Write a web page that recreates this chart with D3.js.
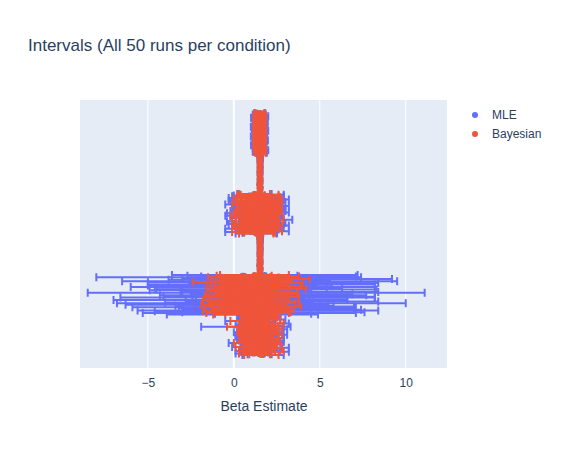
<!DOCTYPE html>
<html><head><meta charset="utf-8">
<script src="https://cdn.jsdelivr.net/npm/d3@7"></script>
<style>body{margin:0;background:#fff}</style></head>
<body><svg id="c" width="566" height="450"></svg>
<script>
const conditions = ["A","B","C","D","E","F"]; // top to bottom
const xTicks = [-5,0,5,10];
const mleEst = {
A:[1.5,1.6,1.4,1.5,1.7,1.5,1.3,1.6,1.5,1.4,1.6,1.5,1.7,1.4,1.5,1.6,1.5,1.3,1.5,1.6,1.4,1.5,1.7,1.5,1.6,1.4,1.5,1.5,1.6,1.3,1.5,1.4,1.6,1.5,1.7,1.5,1.4,1.6,1.5,1.5,1.3,1.6,1.5,1.4,1.6,1.5,1.7,1.5,1.4,1.6],
B:[1.55,1.5,1.6,1.52,1.48,1.55,1.5,1.58,1.53,1.5,1.56,1.49,1.52,1.55,1.5,1.54,1.51,1.57,1.5,1.53,1.55,1.5,1.52,1.56,1.49,1.53,1.55,1.5,1.52,1.54,1.51,1.55,1.5,1.53,1.56,1.5,1.52,1.55,1.48,1.53,1.5,1.54,1.56,1.5,1.52,1.55,1.51,1.53,1.5,1.54],
C:[1.2,1.6,0.9,1.4,1.8,1.1,1.5,2.0,1.3,0.8,1.7,1.2,1.9,1.0,1.5,2.2,1.3,1.1,1.6,0.9,1.8,1.4,1.2,2.1,1.0,1.5,1.7,0.8,1.3,1.9,1.1,1.6,2.0,1.2,0.9,1.5,1.8,1.3,1.0,2.2,1.4,1.1,1.7,0.9,1.6,1.2,1.9,1.0,1.5,1.3],
D:[1.55,1.5,1.6,1.52,1.48,1.55,1.5,1.58,1.53,1.5,1.56,1.49,1.52,1.55,1.5,1.54,1.51,1.57,1.5,1.53,1.55,1.5,1.52,1.56,1.49,1.53,1.55,1.5,1.52,1.54,1.51,1.55,1.5,1.53,1.56,1.5,1.52,1.55,1.48,1.53,1.5,1.54,1.56,1.5,1.52,1.55,1.51,1.53,1.5,1.54],
E:[1.8,0.5,2.6,-0.3,1.2,3.1,0.2,2.0,1.5,-0.8,2.9,0.9,1.6,-0.1,2.4,1.1,0.4,3.4,1.9,-0.5,0.7,2.7,1.3,0.1,2.2,1.7,-0.6,3.0,0.8,1.4,2.5,-0.2,1.0,2.8,0.3,1.6,2.1,-0.4,1.2,3.3,0.6,1.9,0.0,2.6,1.4,-0.7,2.3,0.9,1.7,0.5],
F:[1.3,1.7,0.9,1.5,1.1,1.9,1.2,0.8,1.6,1.4,2.0,1.0,1.3,1.8,0.7,1.5,1.2,1.9,1.0,1.4,1.7,0.9,1.6,1.1,2.1,1.3,0.8,1.5,1.8,1.2,1.0,1.6,1.4,1.9,0.9,1.3,1.7,1.1,1.5,0.8,2.0,1.2,1.4,1.6,1.0,1.8,1.3,1.1,1.5,1.7]};
const mleHw = {
A:[0.3,0.25,0.3,0.35,0.3,0.28,0.3,0.32,0.26,0.3,0.34,0.3,0.27,0.3,0.33,0.29,0.3,0.31,0.26,0.3,0.35,0.28,0.3,0.32,0.3,0.27,0.33,0.3,0.29,0.31,0.3,0.26,0.34,0.3,0.28,0.3,0.32,0.3,0.27,0.33,0.3,0.29,0.31,0.3,0.26,0.34,0.3,0.28,0.3,0.32],
B:[0.08,0.07,0.09,0.08,0.1,0.07,0.08,0.09,0.08,0.07,0.1,0.08,0.09,0.07,0.08,0.1,0.08,0.07,0.09,0.08,0.08,0.1,0.07,0.09,0.08,0.07,0.08,0.1,0.09,0.08,0.07,0.09,0.08,0.1,0.07,0.08,0.09,0.08,0.07,0.1,0.08,0.09,0.07,0.08,0.1,0.08,0.07,0.09,0.08,0.08],
C:[1.0,1.3,0.9,1.5,1.1,1.4,0.8,1.2,1.6,1.0,1.3,1.1,0.9,1.5,1.2,1.0,1.4,1.1,1.3,0.9,1.2,1.6,1.0,1.1,1.4,1.2,0.9,1.3,1.5,1.0,1.2,1.1,1.4,0.9,1.3,1.0,1.2,1.6,1.1,1.0,1.3,0.9,1.2,1.4,1.0,1.1,1.3,1.5,1.0,1.2],
D:[0.08,0.07,0.09,0.08,0.1,0.07,0.08,0.09,0.08,0.07,0.1,0.08,0.09,0.07,0.08,0.1,0.08,0.07,0.09,0.08,0.08,0.1,0.07,0.09,0.08,0.07,0.08,0.1,0.09,0.08,0.07,0.09,0.08,0.1,0.07,0.08,0.09,0.08,0.07,0.1,0.08,0.09,0.07,0.08,0.1,0.08,0.07,0.09,0.08,0.08],
E:[5.4,3.2,4.5,7.7,2.5,6.1,4.0,3.6,8.0,4.2,5.5,2.8,6.6,4.9,3.3,7.1,5.0,2.9,6.4,4.4,3.8,5.7,9.8,2.6,4.7,6.0,3.5,5.2,7.4,2.7,4.1,6.8,3.4,5.6,4.3,8.4,2.9,5.9,4.6,3.7,6.5,5.1,3.0,4.8,7.0,3.9,5.3,6.2,2.8,4.4],
F:[0.8,1.0,0.7,1.2,0.9,1.1,0.8,1.3,0.7,1.0,1.2,0.9,0.8,1.1,2.6,0.9,1.0,1.2,0.8,0.7,1.1,0.9,1.3,0.8,1.0,1.2,0.7,0.9,1.1,1.0,0.8,1.3,0.9,1.0,1.2,0.8,1.1,0.7,1.0,0.9,1.2,0.8,1.0,1.1,0.9,1.4,0.8,1.0,0.7,1.2]};
const bayEst = {
A:[1.5,1.55,1.45,1.5,1.6,1.5,1.4,1.55,1.5,1.45,1.55,1.5,1.6,1.45,1.5,1.55,1.5,1.4,1.5,1.55,1.45,1.5,1.6,1.5,1.55,1.45,1.5,1.5,1.55,1.4,1.5,1.45,1.55,1.5,1.6,1.5,1.45,1.55,1.5,1.5,1.4,1.55,1.5,1.45,1.55,1.5,1.6,1.5,1.45,1.55],
B:[1.53,1.5,1.56,1.52,1.49,1.54,1.5,1.55,1.52,1.5,1.54,1.5,1.52,1.53,1.5,1.53,1.51,1.55,1.5,1.52,1.54,1.5,1.52,1.54,1.5,1.52,1.53,1.5,1.52,1.53,1.51,1.54,1.5,1.52,1.55,1.5,1.52,1.54,1.49,1.52,1.5,1.53,1.55,1.5,1.52,1.54,1.51,1.52,1.5,1.53],
C:[1.2,1.5,1.0,1.4,1.7,1.1,1.5,1.8,1.3,0.9,1.6,1.2,1.7,1.1,1.5,1.9,1.3,1.2,1.5,1.0,1.6,1.4,1.2,1.8,1.1,1.5,1.6,0.9,1.3,1.7,1.1,1.5,1.8,1.2,1.0,1.5,1.6,1.3,1.1,1.9,1.4,1.2,1.6,1.0,1.5,1.2,1.7,1.1,1.5,1.3],
D:[1.53,1.5,1.56,1.52,1.49,1.54,1.5,1.55,1.52,1.5,1.54,1.5,1.52,1.53,1.5,1.53,1.51,1.55,1.5,1.52,1.54,1.5,1.52,1.54,1.5,1.52,1.53,1.5,1.52,1.53,1.51,1.54,1.5,1.52,1.55,1.5,1.52,1.54,1.49,1.52,1.5,1.53,1.55,1.5,1.52,1.54,1.51,1.52,1.5,1.53],
E:[1.2,0.6,1.5,0.3,1.0,1.8,0.4,1.3,1.1,-0.2,1.6,0.8,1.2,0.2,1.4,0.9,0.5,1.9,1.2,0.0,0.7,1.5,1.0,0.3,1.3,1.1,-0.1,1.7,0.8,1.0,1.4,0.2,0.9,1.6,0.4,1.1,1.3,0.1,1.0,1.8,0.6,1.2,0.3,1.5,1.0,-0.1,1.4,0.8,1.1,0.6],
F:[1.3,1.6,1.0,1.5,1.2,1.8,1.2,0.9,1.5,1.4,1.9,1.1,1.3,1.7,1.0,1.5,1.2,1.8,1.1,1.4,1.6,1.0,1.5,1.2,1.9,1.3,0.9,1.5,1.7,1.2,1.1,1.5,1.4,1.8,1.0,1.3,1.6,1.2,1.5,0.9,1.8,1.2,1.4,1.5,1.1,1.7,1.3,1.2,1.5,1.6]};
const bayHw = {
A:[0.28,0.24,0.28,0.32,0.28,0.26,0.28,0.3,0.25,0.28,0.31,0.28,0.26,0.28,0.3,0.27,0.28,0.29,0.25,0.28,0.32,0.26,0.28,0.3,0.28,0.26,0.3,0.28,0.27,0.29,0.28,0.25,0.31,0.28,0.26,0.28,0.3,0.28,0.26,0.3,0.28,0.27,0.29,0.28,0.25,0.31,0.28,0.26,0.28,0.3],
B:[0.07,0.06,0.08,0.07,0.09,0.06,0.07,0.08,0.07,0.06,0.09,0.07,0.08,0.06,0.07,0.09,0.07,0.06,0.08,0.07,0.07,0.09,0.06,0.08,0.07,0.06,0.07,0.09,0.08,0.07,0.06,0.08,0.07,0.09,0.06,0.07,0.08,0.07,0.06,0.09,0.07,0.08,0.06,0.07,0.09,0.07,0.06,0.08,0.07,0.07],
C:[0.9,1.1,0.8,1.2,1.0,1.1,0.8,1.0,1.3,0.9,1.1,1.0,0.8,1.2,1.0,0.9,1.1,1.0,1.1,0.8,1.0,1.3,0.9,1.0,1.1,1.0,0.8,1.1,1.2,0.9,1.0,1.0,1.1,0.8,1.1,0.9,1.0,1.3,1.0,0.9,1.1,0.8,1.0,1.1,0.9,1.0,1.1,1.2,0.9,1.0],
D:[0.07,0.06,0.08,0.07,0.09,0.06,0.07,0.08,0.07,0.06,0.09,0.07,0.08,0.06,0.07,0.09,0.07,0.06,0.08,0.07,0.07,0.09,0.06,0.08,0.07,0.06,0.07,0.09,0.08,0.07,0.06,0.08,0.07,0.09,0.06,0.07,0.08,0.07,0.06,0.09,0.07,0.08,0.06,0.07,0.09,0.07,0.06,0.08,0.07,0.07],
E:[2.0,1.6,2.3,1.8,1.5,2.6,1.7,2.1,1.9,2.2,2.4,1.6,2.0,1.8,2.5,1.7,1.9,2.3,2.1,1.6,1.8,2.2,2.0,1.7,2.4,1.9,1.6,2.1,2.3,1.5,1.8,2.0,1.7,2.2,1.9,2.5,1.6,2.0,1.8,2.1,2.3,1.9,1.6,2.0,2.2,1.7,1.9,2.4,1.6,1.8],
F:[0.7,0.9,0.6,1.0,0.8,0.9,0.7,1.1,0.6,0.9,1.0,0.8,0.7,0.9,1.4,0.8,0.9,1.0,0.7,0.6,0.9,0.8,1.1,0.7,0.9,1.0,0.6,0.8,0.9,0.9,0.7,1.1,0.8,0.9,1.0,0.7,0.9,0.6,0.9,0.8,1.0,0.7,0.9,0.9,0.8,1.2,0.7,0.9,0.6,1.0]};

const svg = d3.select("#c");
const L=80,R=447,T=100,B=368;
const FONT="Liberation Sans, Arial, sans-serif";
const x = d3.scaleLinear().domain([-8.95,12.4]).range([L,R]);
const rows = [];
conditions.forEach(c=>{ for(let i=0;i<50;i++) rows.push(c+"-"+i); });
const y = d3.scalePoint().domain(rows).range([T,B]).padding(16);
svg.append("rect").attr("x",L).attr("y",T).attr("width",R-L).attr("height",B-T).attr("fill","#e5ecf6");
svg.append("g").selectAll("line").data(xTicks).join("line")
  .attr("x1",d=>x(d)).attr("x2",d=>x(d)).attr("y1",T).attr("y2",B)
  .attr("stroke","#fff").attr("stroke-width",d=>d===0?2:1);
const ax = svg.append("g").attr("transform",`translate(0,${B})`)
  .call(d3.axisBottom(x).tickValues(xTicks).tickSize(0).tickPadding(10).tickFormat(d=>d<0?"−"+(-d):d));
ax.select(".domain").remove();
ax.selectAll("text").attr("font-family",FONT).attr("font-size",12).attr("fill","#2a3f5f");

function series(est,hw,color){
  const data=[];
  conditions.forEach(c=>est[c].forEach((v,i)=>data.push({r:c+"-"+i,v,h:hw[c][i]})));
  const g=svg.append("g");
  g.selectAll("path").data(data).join("path")
    .attr("d",d=>{const yy=y(d.r),a=x(d.v-d.h),b=x(d.v+d.h);
      return `M${a},${yy}H${b}M${a},${yy-4}V${yy+4}M${b},${yy-4}V${yy+4}`;})
    .attr("stroke",color).attr("stroke-width",2).attr("fill","none");
  g.selectAll("circle").data(data).join("circle")
    .attr("cx",d=>x(d.v)).attr("cy",d=>y(d.r)).attr("r",3).attr("fill",color);
}
series(mleEst,mleHw,"#636efa");
series(bayEst,bayHw,"#ef553b");

svg.append("text").attr("x",28).attr("y",51).text("Intervals (All 50 runs per condition)")
  .attr("font-family",FONT).attr("font-size",17).attr("fill","#2a3f5f");
svg.append("text").attr("x",264).attr("y",411).attr("text-anchor","middle").text("Beta Estimate")
  .attr("font-family",FONT).attr("font-size",14).attr("fill","#2a3f5f");
[["MLE","#636efa",115],["Bayesian","#ef553b",134]].forEach(([t,c,yy])=>{
  svg.append("circle").attr("cx",475).attr("cy",yy).attr("r",3).attr("fill",c);
  svg.append("text").attr("x",492).attr("y",yy+4).text(t)
    .attr("font-family",FONT).attr("font-size",12).attr("fill","#2a3f5f");
});
</script></body></html>
